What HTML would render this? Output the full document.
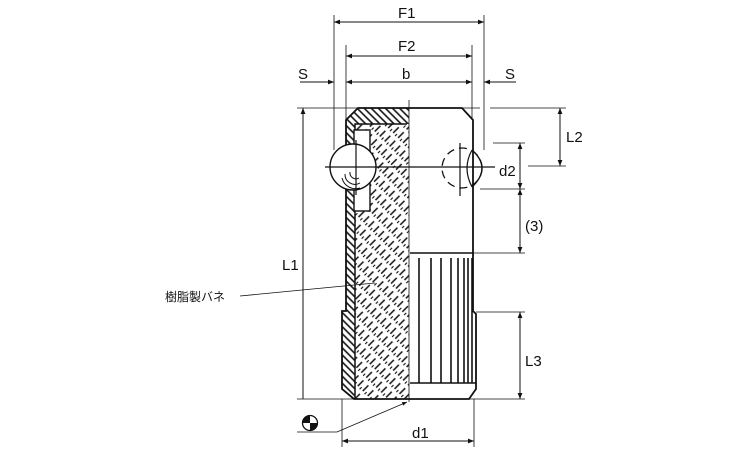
<!DOCTYPE html>
<html><head><style>
html,body{margin:0;padding:0;background:#fff;}
svg{display:block;}
text{font-family:"Liberation Sans","Noto Sans CJK JP",sans-serif;fill:#111;}
</style></head><body>
<svg width="750" height="450" viewBox="0 0 750 450" xmlns="http://www.w3.org/2000/svg">
<defs>
<marker id="a" viewBox="0 0 10 10" refX="10" refY="5" markerWidth="8" markerHeight="6" orient="auto-start-reverse"><path d="M0,1 L10,5 L0,9 z" fill="#111"/></marker>
<pattern id="h1" width="5" height="6" patternUnits="userSpaceOnUse" patternTransform="rotate(-45)"><line x1="1" y1="0" x2="1" y2="6" stroke="#111" stroke-width="1.6"/></pattern>
<pattern id="h2" width="7" height="12" patternUnits="userSpaceOnUse" patternTransform="rotate(45)"><line x1="1" y1="0" x2="1" y2="8" stroke="#111" stroke-width="1.5"/><line x1="4.5" y1="6" x2="4.5" y2="9" stroke="#111" stroke-width="1.1"/></pattern>
</defs>
<g stroke="#111" fill="none" stroke-width="1">
<path d="M346,120 L358,108 L409,108 L409,124 L355,124 L355,389 L354,399 L342,389 L342,311 L346,311 Z" fill="url(#h1)" stroke="none"/>
<path d="M355,124 L409,124 L409,399 L355,399 Z" fill="url(#h2)" stroke="none"/>
<path d="M409,108 L358,108 L346,120 L346,311 L342,311 L342,389 L354,399 L469,399 L476,389 L476,314 L473,311 L473,120 L462,108 L409,108" stroke-width="1.8"/>
<path d="M355,399 L355,124 L407,124" stroke-width="1.5"/>
<line x1="409" y1="100" x2="409" y2="402" stroke-width="0.8"/>
<rect x="354" y="130" width="16" height="81" fill="#fff" stroke-width="1.4"/>
<circle cx="353" cy="167" r="23" fill="#fff" stroke-width="1.4"/>
<path d="M342,178 A14,14 0 0 0 360,188" /><path d="M345,174 A10,10 0 0 0 360,183"/><path d="M350,172 A6,6 0 0 0 359,178"/>
<line x1="356" y1="140" x2="356" y2="195" stroke-width="1.2"/>
<line x1="325" y1="167" x2="495" y2="167" stroke-width="1.2"/>
<circle cx="462" cy="168" r="20" stroke-dasharray="8,5" stroke-width="1.3"/>
<path d="M472,150 Q492,168 472,187" stroke-width="1.4"/>
<path d="M472,150 Q462,168 472,187" stroke-width="1.2"/>
<line x1="460" y1="143" x2="460" y2="196" stroke-width="1.2"/>
<path d="M410,253 L473,253 M410,383 L476,383" stroke-width="1.4"/>
<path d="M419,258 V383 M431,258 V383 M441,258 V383 M451,258 V383 M458,258 V383 M464,258 V383 M468,258 V383 M472,258 V383" stroke-width="1.6"/>
<path d="M334,15 V150 M484,15 V150 M346,45 V130 M472,45 V120" stroke-width="0.8"/>
<line x1="334" y1="22" x2="484" y2="22" marker-start="url(#a)" marker-end="url(#a)"/>
<line x1="346" y1="56" x2="472" y2="56" marker-start="url(#a)" marker-end="url(#a)"/>
<line x1="346" y1="82" x2="472" y2="82" marker-start="url(#a)" marker-end="url(#a)"/>
<line x1="300" y1="82" x2="334" y2="82" marker-end="url(#a)"/>
<line x1="516" y1="82" x2="484" y2="82" marker-end="url(#a)"/>
<path d="M297,108 H480 M297,399 H525" stroke-width="0.8"/>
<line x1="303" y1="399" x2="303" y2="108" marker-end="url(#a)"/>
<path d="M490,108 H566 M528,166 H566 M493,143 H525 M480,189 H525 M472,253 H525 M476,312 H525" stroke-width="0.8"/>
<line x1="560" y1="108" x2="560" y2="166" marker-start="url(#a)" marker-end="url(#a)"/>
<line x1="520" y1="143" x2="520" y2="189" marker-start="url(#a)" marker-end="url(#a)"/>
<line x1="520" y1="189" x2="520" y2="253" marker-start="url(#a)" marker-end="url(#a)"/>
<line x1="520" y1="312" x2="520" y2="399" marker-start="url(#a)" marker-end="url(#a)"/>
<path d="M342,399 V447 M474,399 V447" stroke-width="0.8"/>
<line x1="342" y1="441" x2="474" y2="441" marker-start="url(#a)" marker-end="url(#a)"/>
<line x1="240" y1="296" x2="375" y2="283" stroke-width="0.8"/>
<polyline points="297,432 337,432 407,402" stroke-width="0.8" marker-end="url(#a)"/>
</g>
<circle cx="310" cy="423" r="7.5" fill="#fff" stroke="#111" stroke-width="1.3"/>
<path d="M310,423 V415.5 A7.5,7.5 0 0 0 302.5,423 Z M310,423 H317.5 A7.5,7.5 0 0 1 310,430.5 Z" fill="#111"/>
<g font-size="15">
<text x="398" y="18">F1</text>
<text x="398" y="51">F2</text>
<text x="402" y="79">b</text>
<text x="298" y="79">S</text>
<text x="505" y="79">S</text>
<text x="282" y="270">L1</text>
<text x="566" y="142">L2</text>
<text x="499" y="176">d2</text>
<text x="525" y="231">(3)</text>
<text x="525" y="366">L3</text>
<text x="412" y="438">d1</text>
<text x="165" y="301" font-size="12">樹脂製バネ</text>
</g>
</svg>
</body></html>
